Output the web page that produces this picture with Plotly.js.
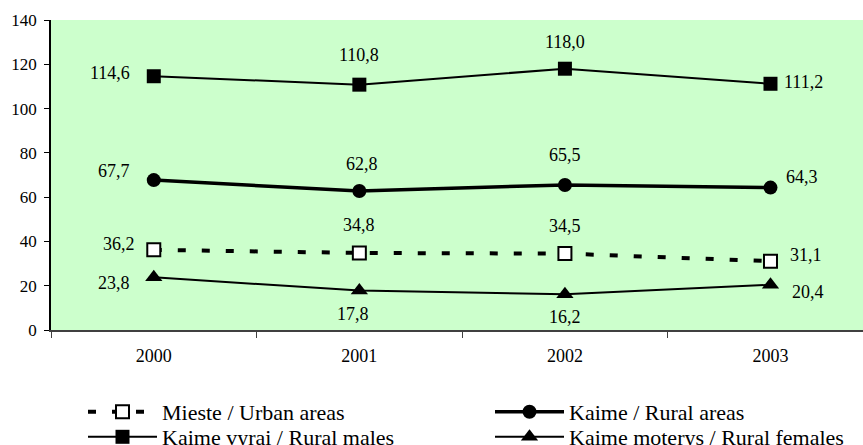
<!DOCTYPE html>
<html>
<head>
<meta charset="utf-8">
<script src="https://cdn.plot.ly/plotly-3.0.1.min.js"></script>
<style>
html,body{margin:0;padding:0;background:#fff;}
#chart{width:863px;height:445px;}
</style>
</head>
<body>
<div id="chart"></div>
<script>
// ---- data ----
var years = ["2000", "2001", "2002", "2003"];
var urbanAreas = [36.2, 34.8, 34.5, 31.1];
var ruralAreas = [67.7, 62.8, 65.5, 64.3];
var ruralMales = [114.6, 110.8, 118.0, 111.2];
var ruralFemales = [23.8, 17.8, 16.2, 20.4];
var seriesNames = ["Mieste / Urban areas", "Kaime / Rural areas", "Kaime vyrai / Rural males", "Kaime moterys / Rural females"];
var yTickValues = [0, 20, 40, 60, 80, 100, 120, 140];

// ---- label placement (style only): [xanchor, xshift, yshift] ----
var labelPlacement = [
  [["right", -18, 6], ["center", 0, 28], ["center", 0, 28], ["left", 19, 6]],
  [["right", -23, 9], ["center", 3, 27], ["center", 0, 30], ["left", 15, 11]],
  [["right", -23, 3], ["center", 0, 30], ["center", 0, 27], ["left", 13, 2]],
  [["right", -23, -6], ["center", -6, -23], ["center", 0, -23], ["left", 21, -7]]
];

var allSeries = [urbanAreas, ruralAreas, ruralMales, ruralFemales];

var traces = [
  {x: years, y: urbanAreas, name: seriesNames[0], type: "scatter", mode: "lines+markers", legend: "legend",
   line: {color: "#000", width: 4, dash: "8px,16px"},
   marker: {symbol: "square", size: 13, color: "#fff", line: {color: "#000", width: 2}}},
  {x: years, y: ruralAreas, name: seriesNames[1], type: "scatter", mode: "lines+markers", legend: "legend2",
   line: {color: "#000", width: 3.5},
   marker: {symbol: "circle", size: 14, color: "#000"}},
  {x: years, y: ruralMales, name: seriesNames[2], type: "scatter", mode: "lines+markers", legend: "legend3",
   line: {color: "#000", width: 2},
   marker: {symbol: "square", size: 14, color: "#000"}},
  {x: years, y: ruralFemales, name: seriesNames[3], type: "scatter", mode: "lines+markers", legend: "legend4",
   line: {color: "#000", width: 2},
   marker: {symbol: "triangle-up", size: 15, color: "#000"}}
];

var annotations = [];
allSeries.forEach(function (vals, s) {
  vals.forEach(function (v, i) {
    var p = labelPlacement[s][i];
    annotations.push({
      x: i, y: v, xref: "x", yref: "y",
      text: v.toFixed(1).replace(".", ","),
      showarrow: false, xanchor: p[0], yanchor: "middle",
      xshift: p[1], yshift: p[2], borderpad: 0,
      font: {size: 18}
    });
  });
});

var plotLeft = 51, plotWidth = 812;
function legendAt(xPx, yPx) {
  return {
    orientation: "v", xref: "paper", yref: "container",
    x: (xPx - plotLeft) / plotWidth, y: 1 - yPx / 445, xanchor: "left", yanchor: "middle",
    itemwidth: 69, tracegroupgap: 0, borderwidth: 0,
    font: {size: 22},
    bgcolor: "rgba(0,0,0,0)"
  };
}

var layout = {
  width: 863, height: 445,
  margin: {l: 51, r: 0, t: 20, b: 115, pad: 0},
  paper_bgcolor: "#fff",
  plot_bgcolor: "#CCFFCC",
  font: {family: "Liberation Serif", size: 18, color: "#000"},
  showlegend: true,
  xaxis: {
    type: "category", range: [-0.5, 3.45], tickson: "boundaries",
    ticks: "outside", ticklen: 6, tickcolor: "#404040", tickwidth: 1,
    showline: true, linecolor: "#404040", linewidth: 2,
    showgrid: false, zeroline: false, fixedrange: true, tickangle: 0,
    ticklabelstandoff: 8,
    tickfont: {size: 18}
  },
  yaxis: {
    range: [0, 140], tickvals: yTickValues, ticktext: yTickValues.map(String),
    ticks: "outside", ticklen: 5, tickcolor: "#000",
    showline: true, linecolor: "#000", linewidth: 1.5,
    showgrid: false, zeroline: false, fixedrange: true,
    ticklabelstandoff: 4,
    tickfont: {size: 17}
  },
  legend: legendAt(83, 412),
  legend2: legendAt(490, 412),
  legend3: legendAt(83, 437),
  legend4: legendAt(490, 437),
  annotations: annotations
};

Plotly.newPlot("chart", traces, layout, {displayModeBar: false});
</script>
</body>
</html>
